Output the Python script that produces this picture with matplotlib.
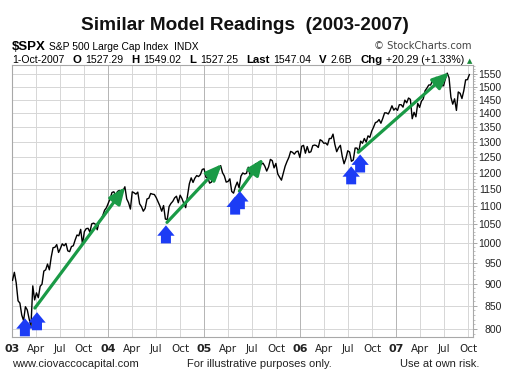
import matplotlib
matplotlib.use("Agg")
import matplotlib.pyplot as plt
import matplotlib.ticker as mticker
import matplotlib.dates as mdates
import pandas as pd

# Weekly S&P 500 readings (Friday closes, extremes)
spx_2003 = [908, 927, 902, 861, 856, 830, 818, 848, 841, 822, 805, 895, 863,
            879, 868, 894, 899, 930, 933, 947, 933, 964, 988, 989, 996, 976,
            986, 998, 993, 999, 980, 978, 991, 993, 1008, 1021, 1019, 1036,
            997, 1030, 1038, 1039, 1029, 1051, 1053, 1050, 1035, 1058, 1062,
            1074, 1089, 1096]
spx_2004 = [1109, 1122, 1140, 1142, 1131, 1143, 1146, 1144, 1145, 1157, 1121,
            1110, 1092, 1142, 1139, 1135, 1141, 1107, 1099, 1086, 1094, 1121,
            1123, 1137, 1135, 1134, 1125, 1113, 1101, 1086, 1102, 1064, 1063,
            1099, 1108, 1114, 1124, 1129, 1110, 1132, 1122, 1108, 1096, 1130,
            1166, 1184, 1170, 1183, 1191, 1188, 1194, 1210, 1212]
spx_2005 = [1186, 1185, 1168, 1171, 1203, 1205, 1202, 1211, 1222, 1200, 1190,
            1171, 1173, 1181, 1143, 1138, 1157, 1171, 1154, 1189, 1199, 1196,
            1198, 1217, 1192, 1212, 1212, 1228, 1229, 1234, 1226, 1230, 1220,
            1205, 1218, 1242, 1238, 1215, 1229, 1196, 1186, 1177, 1198, 1220,
            1235, 1248, 1268, 1265, 1259, 1267, 1269, 1248]
spx_2006 = [1285, 1288, 1262, 1284, 1264, 1267, 1287, 1289, 1287, 1281, 1307,
            1303, 1295, 1296, 1289, 1311, 1311, 1326, 1291, 1267, 1280, 1288,
            1252, 1228, 1245, 1270, 1266, 1236, 1240, 1279, 1279, 1267, 1302,
            1295, 1311, 1299, 1320, 1315, 1336, 1350, 1366, 1369, 1377, 1364,
            1381, 1401, 1401, 1397, 1410, 1427, 1411, 1418]
spx_2007 = [1410, 1431, 1431, 1422, 1448, 1438, 1456, 1451, 1380, 1403, 1387,
            1436, 1421, 1444, 1453, 1484, 1494, 1506, 1506, 1523, 1516, 1536,
            1508, 1533, 1503, 1503, 1530, 1553, 1534, 1459, 1433, 1453, 1410,
            1479, 1474, 1454, 1484, 1526, 1527, 1547]

spx = spx_2003 + spx_2004 + spx_2005 + spx_2006 + spx_2007
weeks = pd.date_range("2003-01-03", periods=len(spx), freq="W-FRI")

# green trend arrows (start date, start value, end date, end value)
trend_start_dates = ["2003-03-29", "2004-08-12", "2005-05-14", "2006-08-09"]
trend_start_vals = [845, 1055, 1144, 1265]
trend_end_dates = ["2004-03-06", "2005-03-09", "2005-08-13", "2007-07-20"]
trend_end_vals = [1156, 1227, 1245, 1556]

# blue "model reading" arrows (tip date, tip value)
signal_dates = ["2003-02-19", "2003-04-06", "2004-08-08", "2005-04-28",
                "2005-05-16", "2006-07-13", "2006-08-16"]
signal_vals = [823, 836, 1047, 1128, 1144, 1220, 1258]

# quote line: (label, value)
quote_labels = ["O", "H", "L", "Last", "V", "Chg"]
quote_values = ["1527.29", "1549.02", "1527.25", "1547.04", "2.6B", "+20.29 (+1.33%)"]

y_ticks = list(range(800, 1551, 50))
quarter_ticks = pd.date_range("2003-01-01", "2007-10-01", freq="QS")

W, H = 507, 385
fig = plt.figure(figsize=(W / 100, H / 100), dpi=100)
renderer = fig.canvas.get_renderer()


def fx(x):
    return x / W


def fy(y):
    return 1 - y / H


ax = fig.add_axes([fx(12), fy(337), fx(473) - fx(12), fy(65) - fy(337)])

ax.plot(weeks, spx, color="black", lw=1.0, zorder=3)

ax.set_yscale("log")
ax.set_ylim(784, 1586)
ax.set_xlim(pd.Timestamp("2003-01-01"), pd.Timestamp("2007-10-19"))

ax.yaxis.set_major_locator(mticker.FixedLocator(y_ticks))
ax.yaxis.set_major_formatter(mticker.FixedFormatter([str(v) for v in y_ticks]))
ax.yaxis.set_minor_locator(mticker.FixedLocator(list(range(790, 1581, 10))))
ax.yaxis.set_minor_formatter(mticker.NullFormatter())
ax.yaxis.tick_right()
ax.tick_params(axis="y", which="major", length=3, width=0.6, color="#999999",
               pad=17.5, labelsize=7.5, labelcolor="#222222")
ax.tick_params(axis="y", which="minor", length=1.5, width=0.5, color="#aaaaaa")
for lab in ax.get_yticklabels():
    lab.set_horizontalalignment("right")
    lab.set_fontfamily("Liberation Sans")

ax.xaxis.set_major_locator(mticker.FixedLocator(mdates.date2num(quarter_ticks)))
x_labels = [d.strftime("%y") if d.month == 1 else d.strftime("%b") for d in quarter_ticks]
ax.set_xticklabels(x_labels)
ax.tick_params(axis="x", length=0, pad=5, labelsize=7.5, labelcolor="#222222")
for lab, d in zip(ax.get_xticklabels(), quarter_ticks):
    lab.set_fontfamily("DejaVu Sans")
    if d.month == 1:
        lab.set_fontweight("bold")
        lab.set_fontsize(8)

# grid
for v in y_ticks:
    ax.axhline(v, color="#d6d6d6", lw=0.7, zorder=0)
for d in quarter_ticks:
    ax.axvline(d, color="#b4b4b4" if d.month == 1 else "#d6d6d6", lw=0.7, zorder=0)
for s in ax.spines.values():
    s.set_color("#a8a8a8")
    s.set_linewidth(0.8)

# green trend arrows
for sd, sv, ed, ev in zip(trend_start_dates, trend_start_vals, trend_end_dates, trend_end_vals):
    ax.annotate("", xy=(pd.Timestamp(ed), ev), xytext=(pd.Timestamp(sd), sv),
                arrowprops=dict(arrowstyle="-|>,head_length=1.0,head_width=0.42",
                                mutation_scale=10, color="#1a9a46", lw=2.3,
                                shrinkA=0, shrinkB=0), zorder=4)

# blue signal arrows
for d, v in zip(signal_dates, signal_vals):
    ax.annotate("", xy=(pd.Timestamp(d), v), xytext=(0, -13), textcoords="offset points",
                arrowprops=dict(arrowstyle="simple,head_length=0.75,head_width=1.25,tail_width=0.72",
                                mutation_scale=10, color="#1c3cf5", lw=0,
                                shrinkA=0, shrinkB=0), zorder=5)

# header
fig.text(fx(245), fy(30), "Similar Model Readings  (2003-2007)", ha="center", va="baseline",
         fontsize=13.7, fontweight="bold", family="Liberation Sans", color="#111111")
fig.text(fx(12), fy(50), "$SPX", ha="left", va="baseline", fontsize=9.5,
         fontweight="bold", family="Liberation Sans")
fig.text(fx(49), fy(50), "S&P 500 Large Cap Index  INDX", ha="left", va="baseline",
         fontsize=7.4, family="Liberation Sans")
fig.text(fx(472), fy(49), "\u00a9 StockCharts.com", ha="right", va="baseline",
         fontsize=7.2, family="DejaVu Sans", color="#444444")


def put(x_px, text, **kw):
    # draw text at pixel x on the quote line and return where it ends
    t = fig.text(fx(x_px), fy(63), text, ha="left", va="baseline",
                 family="Liberation Sans", **kw)
    return t.get_window_extent(renderer).x1


x = put(12, "1-Oct-2007", fontsize=7.6)
for lbl, val in zip(quote_labels, quote_values):
    x = put(x + 8, lbl, fontsize=8.2, fontweight="bold")
    x = put(x + 3.8, val, fontsize=7.6)
fig.text(fx(x + 3), fy(63), "\u25b2", ha="left", va="baseline", fontsize=5,
         color="#1a8a3a", family="DejaVu Sans")

# footer
fig.text(fx(12), fy(367), "www.ciovaccocapital.com", ha="left", va="baseline",
         fontsize=8, family="Liberation Sans", color="#222222")
fig.text(fx(187), fy(367), "For illustrative purposes only.", ha="left", va="baseline",
         fontsize=8, family="Liberation Sans", color="#222222")
fig.text(fx(479), fy(367), "Use at own risk.", ha="right", va="baseline",
         fontsize=8, family="Liberation Sans", color="#222222")

fig.savefig("out.png", dpi=100, facecolor="white")
